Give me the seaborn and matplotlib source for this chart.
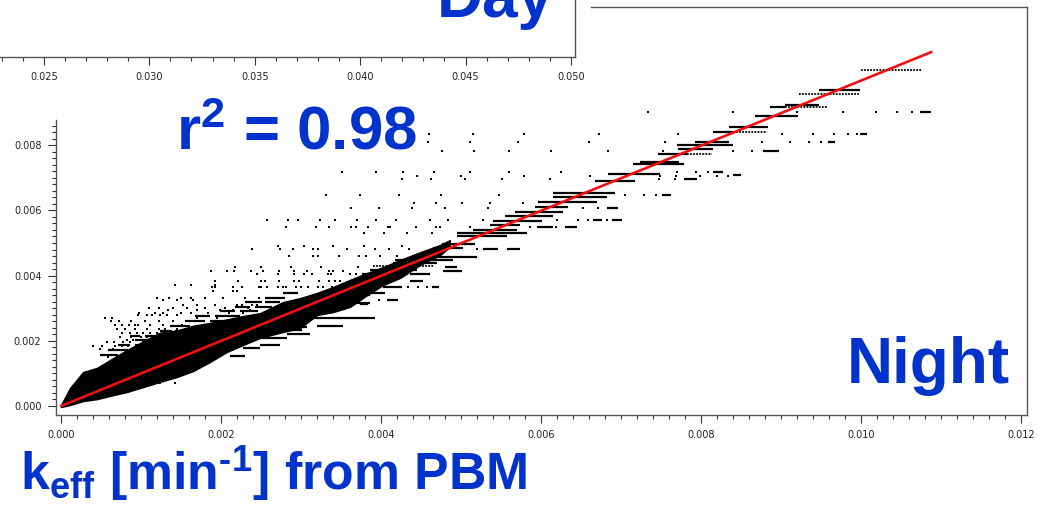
import matplotlib
matplotlib.use('Agg')
import matplotlib.pyplot as plt
import numpy as np
import pandas as pd
import seaborn as sns
from matplotlib.ticker import MultipleLocator, FormatStrFormatter

# all scatter values below are in units of 1e-3 min^-1
major_x = [0, 2, 4, 6, 8, 10, 12]
major_y = [0, 2, 4, 6, 8]
day_ticks = [0.025, 0.030, 0.035, 0.040, 0.045, 0.050]

fit_x = [0, 10.88]
fit_y = [0, 10.86]

# dense part of the cloud
band_x = [0, .112, .275, .45, .612, .825, 1.025, 1.238, 1.45, 1.65, 1.862, 2.075, 2.275, 2.488, 2.775,
          2.988, 3.2, 3.4, 3.612, 3.825, 4.025, 4.24, 4.49, 4.74, 4.86]
band_hi = [.03, .55, 1.04, 1.17, 1.41, 1.72, 1.98, 2.25, 2.32, 2.46, 2.55, 2.66, 2.76, 2.85, 3.19,
           3.31, 3.47, 3.65, 3.87, 4.08, 4.26, 4.48, 4.72, 4.94, 5.09]
band_lo = [-.03, .03, .15, .21, .31, .43, .58, .74, .89, 1.07, 1.35, 1.66, 1.87, 2.09, 2.27,
           2.39, 2.79, 2.88, 3.04, 3.40, 3.71, 3.93, 4.33, 4.63, 4.88]

# runs of points on one level (the data is quantised)
run_y = [9.69, 9.22, 9.16, 9.03, 8.90, 8.57, 8.41, 8.33, 8.10, 8.10, 8.01, 7.89, 7.81, 7.74, 7.49, 7.42,
         7.18, 7.13, 7.09, 6.95, 6.91, 6.53, 6.46, 6.42, 6.27, 6.11, 6.06, 5.96, 5.84, 5.72, 5.72, 5.68,
         5.55, 5.48, 5.48, 5.40, 5.30, 5.21, 4.97, 4.84, 4.82, 4.82, 4.58, 4.48, 4.38, 4.25, 4.17, 4.14,
         4.05, 4.05, 3.84, 3.66, 3.66, 3.47, 3.40, 3.25, 3.15, 3.13, 3.13, 2.98, 2.70, 2.45, 2.42, 2.33,
         2.21, 2.09, 1.87, 1.78, 1.53,
         1.56, 1.72, 1.87, 1.87, 2.02, 2.02, 2.15, 2.15, 2.15, 2.30, 2.30, 2.45, 2.45, 2.60, 2.60,
         2.75, 2.75, 2.90, 2.90, 3.05, 3.05, 3.20, 3.20, 3.31, 3.47]
run_x0 = [9.48, 9.05, 8.86, 10.74, 8.67, 8.35, 8.15, 9.99, 7.93, 9.59, 7.70, 7.71, 8.78, 7.46, 7.24, 7.15,
          8.15, 6.84, 8.40, 7.79, 6.68, 6.15, 7.51, 6.15, 5.96, 5.93, 6.83, 5.68, 5.55, 6.65, 6.89, 5.40,
          5.36, 5.95, 6.30, 5.15, 4.95, 4.95, 4.76, 4.65, 5.28, 5.58, 4.49, 4.18, 4.15, 4.80, 3.86, 4.78,
          3.76, 4.36, 4.36, 4.03, 4.64, 3.61, 3.51, 4.08, 3.61, 3.51, 3.74, 3.40, 3.15, 3.20, 2.90, 2.84,
          2.83, 2.43, 2.49, 2.28, 2.11,
          .49, .59, .71, .93, .93, 1.14, .86, 1.05, 1.28, 1.24, 1.43, 1.36, 1.68, 1.55, 1.86,
          1.68, 1.93, 1.99, 2.24, 2.18, 2.43, 2.30, 2.55, 2.55, 2.78]
run_x1 = [9.99, 9.48, 9.05, 10.88, 9.21, 8.84, 8.40, 10.08, 8.35, 9.68, 8.40, 8.15, 8.98, 7.83, 7.73, 7.79,
          8.28, 7.49, 8.50, 7.95, 7.18, 6.93, 7.63, 6.83, 6.70, 6.34, 6.96, 6.28, 6.15, 6.76, 7.01, 6.01,
          5.74, 6.15, 6.45, 5.70, 5.83, 5.58, 5.18, 5.03, 5.46, 5.74, 5.20, 4.90, 4.70, 4.95, 4.45, 5.01,
          4.33, 4.61, 4.53, 4.26, 4.73, 4.05, 3.86, 4.21, 3.86, 3.64, 3.84, 3.55, 3.93, 3.53, 3.08, 3.01,
          3.11, 2.83, 2.74, 2.49, 2.30,
          .71, .84, .86, 1.01, 1.09, 1.30, .99, 1.24, 1.43, 1.39, 1.59, 1.61, 1.74, 1.80, 2.05,
          1.86, 2.24, 2.18, 2.46, 2.36, 2.64, 2.51, 2.74, 2.80, 2.96]

# same, where the points are just apart and read as a dotted row
dotted_y = [10.32, 9.56, 9.16, 8.41, 7.74, 4.29]
dotted_x0 = [10.00, 9.22, 9.05, 8.40, 7.83, 3.90]
dotted_x1 = [10.76, 9.98, 9.58, 8.83, 8.14, 4.65]

# isolated points, one list of x per level
dot_levels = [9.03, 8.34, 8.09, 7.81, 7.19, 7.07, 6.95, 6.46, 6.22, 6.06, 5.72, 5.49, 5.30, 4.92, 4.82, 4.60,
              4.25, 4.15, 4.05, 3.84, 3.71, 3.66, 3.53, 3.25, 3.09, 2.94, 2.79, 2.70, 2.47, 2.24, 2.02,
              1.84, 1.74, 1.50, .71, 3.32, 3.02, 2.86, 2.60, 2.35, 2.12, 1.95]
dot_columns = [
    [7.34, 8.40, 9.20, 9.78, 10.19, 10.45, 10.64],
    [4.60, 5.15, 5.79, 6.73, 7.71, 9.01, 9.40, 9.66, 9.84, 9.95],
    [4.59, 5.11, 5.71, 6.60, 7.55, 8.76, 9.11, 9.35, 9.50],
    [4.76, 5.16, 5.60, 6.13, 6.84, 7.53, 8.40, 8.64],
    [3.51, 3.94, 4.28, 4.66, 5.11, 5.60, 6.25, 7.70, 7.94, 8.09],
    [4.45, 5.00, 5.79, 6.61, 7.49, 7.69, 7.99, 8.20, 8.34],
    [4.26, 4.63, 5.05, 5.51, 6.11, 7.48, 7.68],
    [3.31, 3.74, 4.22, 4.75, 5.48, 7.05, 7.29, 7.44],
    [4.41, 4.69, 5.01, 5.36, 5.78],
    [3.63, 3.98, 4.39, 4.80, 5.34, 6.53, 6.71],
    [2.58, 2.84, 2.96, 3.24, 3.43, 3.70, 3.94, 4.19, 4.61, 4.84, 5.28, 6.20, 6.46, 6.59, 6.83],
    [2.81, 3.19, 3.35, 3.63, 3.69, 3.84, 4.09, 4.11, 4.44, 4.69, 4.74, 5.11, 5.86, 6.19],
    [3.79, 4.04, 4.33, 4.64],
    [2.71, 3.04, 3.40, 3.79, 4.26],
    [2.39, 2.74, 2.90, 3.15, 3.21, 3.58, 3.93, 4.10, 4.35, 5.20],
    [2.85, 3.15, 3.21, 3.48, 3.73, 3.81, 3.99, 4.20],
    [2.18, 2.50, 2.88, 3.25, 3.71],
    [1.88, 2.08, 2.16, 2.38, 2.53, 2.73, 2.91, 3.08, 3.35, 3.40, 3.53],
    [2.45, 2.71, 2.91, 3.04, 3.14, 3.34, 3.38, 3.61, 3.69],
    [1.93, 2.21, 2.55, 2.50, 2.73, 2.91, 2.98, 3.23, 3.35, 3.43, 3.49],
    [1.43, 1.63, 1.93],
    [1.89, 1.93, 2.15, 2.26, 2.48, 2.50, 2.58, 2.71, 2.78, 2.81, 2.94, 3.00, 3.09, 3.21, 3.28, 3.39, 3.45,
     4.34, 4.46, 4.58],
    [1.90, 2.15, 2.20],
    [1.28, 1.45, 1.65, 3.98],
    [1.53, 1.70, 1.93, 2.20, 2.26, 2.39, 2.45],
    [1.34, 1.70, 1.99, 2.15, 2.36],
    [.96, 1.08, 1.14, 1.24, 1.33, 1.45],
    [.55, .64, 1.70, 1.95, 2.30, 3.61, 3.71],
    [.68, .76, .85, .93, .96, 1.11, 1.28, 1.51],
    [.76, .86, .95, 1.03, 1.11, 1.20, 1.36],
    [.83, .90, 1.01, 1.15],
    [.40, .51, .68, .76, .84, .95],
    [.49, .65],
    [.59, .70, .80],
    [1.24, 1.43],
    [1.20, 1.35, 1.50, 1.62, 1.80, 2.02, 2.30, 2.48],
    [1.10, 1.22, 1.40, 1.58, 1.80, 2.05, 2.34],
    [.98, 1.18, 1.28, 1.50, 1.62, 1.84, 2.10, 2.28, 2.55],
    [.62, .72, .88, 1.05, 1.22, 1.40, 1.60],
    [.70, .80, .92, 1.08, 1.22, 1.30, 1.45, 1.55],
    [.74, .88, 1.00, 1.08, 1.25],
    [.58, .66, .78, .86, 1.02],
]

dots = pd.DataFrame([(x, lev) for lev, xs in zip(dot_levels, dot_columns) for x in xs], columns=['x', 'y'])
dots[['x', 'y']] *= 1e-3

BLUE = '#0033cc'
SPINE = '#555555'
W, H = 1048, 505

sns.set_style('white')
plt.rcParams['font.family'] = ['DejaVu Sans']
plt.rcParams['mathtext.fontset'] = 'custom'
plt.rcParams['mathtext.rm'] = 'Liberation Sans:bold'
plt.rcParams['mathtext.it'] = 'Liberation Sans:bold'
plt.rcParams['mathtext.bf'] = 'Liberation Sans:bold'

fig = plt.figure(figsize=(W / 100, H / 100), dpi=100, facecolor='white')


def box(left, top, right, bottom):
    return [left / W, 1 - bottom / H, (right - left) / W, (bottom - top) / H]


# night panel
ax = fig.add_axes(box(56, 7, 1027, 415), facecolor='none')
ax.fill_between(np.array(band_x) * 1e-3, np.array(band_lo) * 1e-3, np.array(band_hi) * 1e-3,
                color='black', lw=1.0, zorder=2)
ax.hlines(np.array(run_y) * 1e-3, np.array(run_x0) * 1e-3, np.array(run_x1) * 1e-3,
          color='black', lw=1.6, zorder=2)
ax.hlines(np.array(dotted_y) * 1e-3, np.array(dotted_x0) * 1e-3, np.array(dotted_x1) * 1e-3,
          color='black', lw=1.3, linestyles=(0, (1, 0.7)), zorder=2)
sns.scatterplot(data=dots, x='x', y='y', ax=ax, marker='s', s=3, color='black', linewidth=0,
                legend=False, zorder=3)
sns.lineplot(x=np.array(fit_x) * 1e-3, y=np.array(fit_y) * 1e-3, ax=ax, color='#ee1111', lw=1.9, zorder=4)

ax.set_xlim(-0.0000625, 0.012075)
ax.set_ylim(-0.000276, 0.01224)
ax.set_xlabel('')
ax.set_ylabel('')
ax.set_xticks(np.array(major_x) * 1e-3)
ax.set_yticks(np.array(major_y) * 1e-3)
ax.xaxis.set_minor_locator(MultipleLocator(0.0002))
ax.set_yticks(np.arange(0, 44) * 0.0002, minor=True)
ax.xaxis.set_major_formatter(FormatStrFormatter('%.3f'))
ax.yaxis.set_major_formatter(FormatStrFormatter('%.3f'))
ax.tick_params(which='major', bottom=True, left=True, length=5.5, width=0.8, color='#333333',
               labelsize=7, labelcolor='#222222', pad=5)
ax.tick_params(which='minor', bottom=True, left=True, length=3, width=0.8, color='#333333')
for side in ax.spines:
    ax.spines[side].set_color(SPINE)
    ax.spines[side].set_linewidth(1.0)
ax.spines['left'].set_bounds(-0.000276, 0.00877)
ax.spines['top'].set_bounds(0.00663, 0.012075)

# what is left of the day panel above it
ax_day = fig.add_axes(box(-2, -60, 575, 57), facecolor='white')
ax_day.set_xlim(0.050 - 573 / 21160 - 2 / 21160, 0.050 + 4 / 21160)
ax_day.set_ylim(0, 1)
ax_day.set_xticks(day_ticks)
ax_day.xaxis.set_minor_locator(MultipleLocator(0.001))
ax_day.xaxis.set_major_formatter(FormatStrFormatter('%.3f'))
ax_day.set_yticks([])
ax_day.tick_params(which='major', bottom=True, length=5.5, width=0.8, color='#333333',
                   labelsize=7, labelcolor='#222222', pad=5)
ax_day.tick_params(which='minor', bottom=True, length=3, width=0.8, color='#333333')
for side in ['top', 'left']:
    ax_day.spines[side].set_visible(False)
for side in ['bottom', 'right']:
    ax_day.spines[side].set_color(SPINE)
    ax_day.spines[side].set_linewidth(1.0)


def label(x, y, text, size):
    fig.text(x / W, 1 - y / H, text, color=BLUE, fontsize=size, fontweight='bold',
             family='Liberation Sans', va='baseline', ha='left', zorder=10)


label(437, 17, 'Day', 46)
label(847, 383, 'Night', 46)
label(176, 150, r'$\mathbf{r^2}$ = 0.98', 44.5)
label(20, 490, r'$\mathbf{k_{eff}}$ [min$\mathbf{^{\text{-}1}}$] from PBM', 37.3)

fig.savefig('out.png', dpi=100)
